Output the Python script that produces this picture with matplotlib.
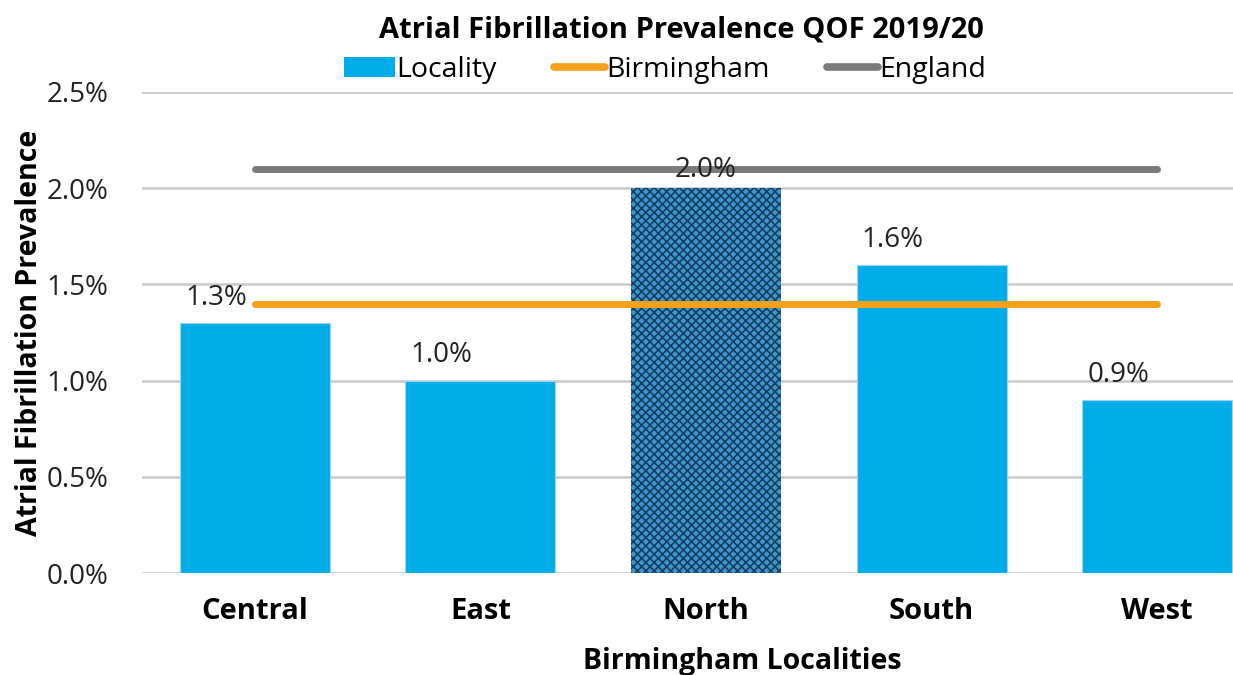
import matplotlib
matplotlib.use("Agg")
import matplotlib.pyplot as plt
from matplotlib.patches import Patch
from matplotlib.lines import Line2D
from matplotlib.ticker import FuncFormatter

localities = ["Central", "East", "North", "South", "West"]
prevalence = [1.3, 1.0, 2.0, 1.6, 0.9]
birmingham = 1.4
england = 2.1
highlight = "North"

plt.rcParams["font.family"] = ["Open Sans", "DejaVu Sans"]
plt.rcParams["hatch.linewidth"] = 1.2

fig = plt.figure(figsize=(12.33, 6.75), dpi=100)
ax = fig.add_axes([142 / 1233, (675 - 573) / 675, 1128 / 1233, 481 / 675])

x = list(range(len(localities)))
bar_blue = "#00ADE9"
for xi, name, val in zip(x, localities, prevalence):
    if name == highlight:
        ax.bar(xi, val, width=0.665, color="#3D97CF", edgecolor="#173E5E",
               hatch="xxxx", linewidth=0, zorder=2)
    else:
        ax.bar(xi, val, width=0.665, color=bar_blue, edgecolor="#9DD6EE",
               linewidth=0.8, zorder=2)
    dx = 0 if name == highlight else -28
    dy = 3 if name == highlight else 8
    ax.annotate(f"{val:.1f}%", (xi, val), xytext=(dx, dy),
                textcoords="offset points", ha="center", va="bottom",
                fontsize=20, color="#222222", zorder=4)

ax.plot([x[0], x[-1]], [birmingham, birmingham], color="#F5A01A", lw=5,
        solid_capstyle="round", zorder=3)
ax.plot([x[0], x[-1]], [england, england], color="#7A7A7A", lw=5,
        solid_capstyle="round", zorder=3)

ax.set_xlim(-0.5, len(localities) - 0.5)
ax.set_ylim(0, 2.5)
ax.set_yticks([0, 0.5, 1.0, 1.5, 2.0, 2.5])
ax.yaxis.set_major_formatter(FuncFormatter(lambda v, p: f"{v:.1f}%"))
ax.set_xticks(x)
ax.set_xticklabels(localities, fontsize=21, fontweight="bold")
ax.tick_params(axis="y", labelsize=20, length=0, pad=24, labelcolor="#222222")
ax.tick_params(axis="x", length=0, pad=17)
ax.grid(axis="y", color="#C8C8C8", lw=1.8, zorder=0)
ax.set_axisbelow(True)
for s in ax.spines.values():
    s.set_visible(False)

fig.text(30 / 1233, 1 - 333 / 675, "Atrial Fibrillation Prevalence", rotation=90,
         ha="center", va="center", fontsize=20.5, fontweight="bold")
fig.text(742 / 1233, 1 - 662 / 675, "Birmingham Localities",
         ha="center", va="center", fontsize=20.5, fontweight="bold")

fig.text(681 / 1233, 1 - 30 / 675, "Atrial Fibrillation Prevalence QOF 2019/20",
         ha="center", va="center", fontsize=21, fontweight="bold")

handles = [
    Patch(facecolor=bar_blue, edgecolor="none", label="Locality"),
    Line2D([0], [0], color="#F5A01A", lw=5.5, solid_capstyle="round", label="Birmingham"),
    Line2D([0], [0], color="#7A7A7A", lw=5.5, solid_capstyle="round", label="England"),
]
fig.legend(handles=handles, loc="center", bbox_to_anchor=(665 / 1233, 1 - 70 / 675),
           ncol=3, frameon=False, fontsize=20.5, handlelength=1.8, handletextpad=0.05,
           columnspacing=2.0, handleheight=0.75)

fig.savefig("out.png", dpi=100)
